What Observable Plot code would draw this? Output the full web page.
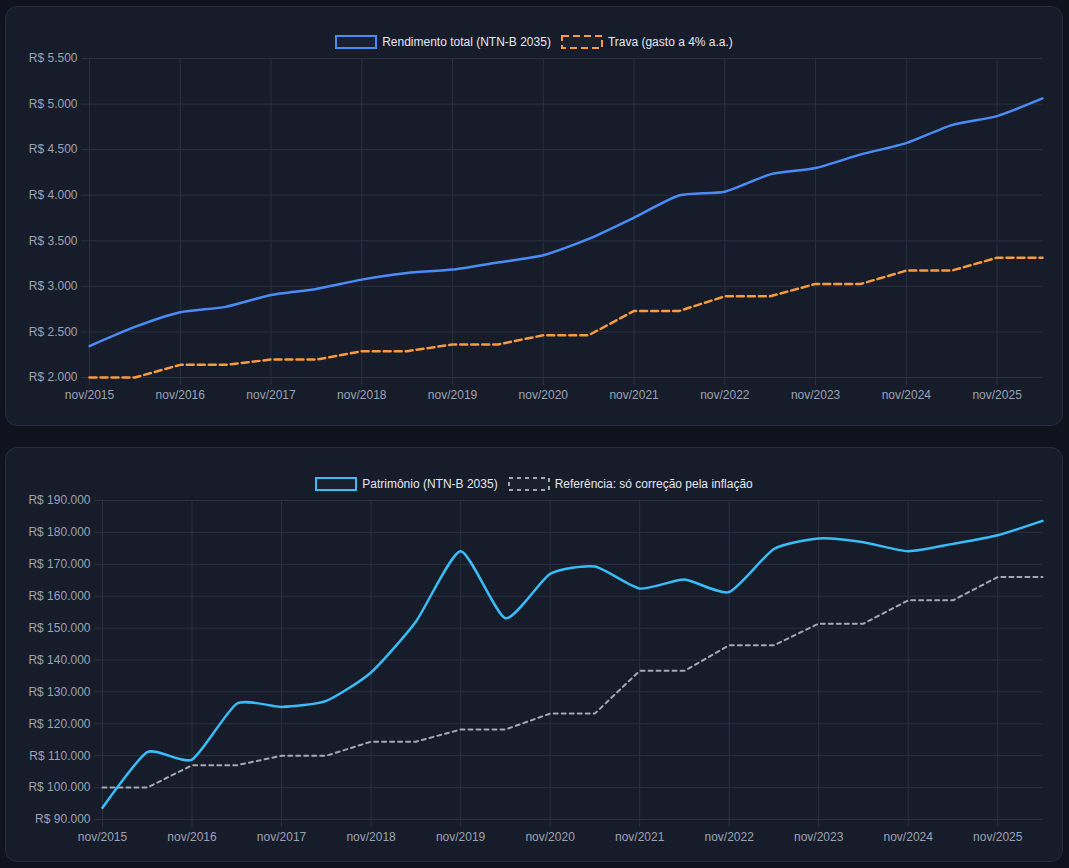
<!DOCTYPE html>
<html><head><meta charset="utf-8">
<script src="https://cdn.jsdelivr.net/npm/d3@7"></script>
<script src="https://cdn.jsdelivr.net/npm/@observablehq/plot@0.6"></script>
<style>
body{margin:0;background:#10131d;width:1069px;height:868px;overflow:hidden;font-family:"Liberation Sans",Arial,sans-serif;}
.card{position:absolute;left:5px;width:1056px;background:#171c2b;border:1px solid #272d3e;border-radius:12px;}
.chart{position:absolute;left:0;}
.leg{position:absolute;left:5px;width:1058px;height:14px;display:flex;justify-content:center;align-items:center;font-size:12px;color:#e3e7ef;white-space:nowrap;}
.leg .it{display:flex;align-items:center;margin:0 5px;}
.leg svg{margin-right:5px;display:block;}
</style></head><body>
<div class="card" style="top:6px;height:418px"></div>
<div class="card" style="top:447px;height:413px"></div>
<div id="c1" class="chart" style="top:0px"></div>
<div id="c2" class="chart" style="top:440px"></div>
<div id="leg1" class="leg" style="top:35px"></div>
<div id="leg2" class="leg" style="top:477px"></div>
<script>
const periods = ["nov/2015","mai/2016","nov/2016","mai/2017","nov/2017","mai/2018","nov/2018","mai/2019","nov/2019","mai/2020","nov/2020","mai/2021","nov/2021","mai/2022","nov/2022","mai/2023","nov/2023","mai/2024","nov/2024","mai/2025","nov/2025","mai/2026"];
const xTickLabels = ["nov/2015","nov/2016","nov/2017","nov/2018","nov/2019","nov/2020","nov/2021","nov/2022","nov/2023","nov/2024","nov/2025"];
const rendimento = [2345,2555,2716,2775,2906,2972,3074,3147,3184,3262,3341,3520,3754,3999,4039,4229,4298,4448,4572,4769,4868,5062];
const trava = [2000,2000,2139,2139,2197,2197,2289,2289,2362,2362,2464,2464,2731,2731,2891,2891,3027,3027,3173,3173,3315,3315];
const patrimonio = [93700,111100,108800,126300,125300,127200,136100,152000,174100,153100,167000,169300,162400,165200,161300,174800,178100,176900,174100,176400,179100,183600];
const referencia = [100000,100000,107000,107000,110000,110000,114400,114400,118200,118200,123200,123200,136600,136600,144600,144600,151400,151400,158700,158700,166000,166000];
const yTicksTop = [2000,2500,3000,3500,4000,4500,5000,5500];
const yTicksBottom = [90000,100000,110000,120000,130000,140000,150000,160000,170000,180000,190000];
const legendTop = [
  {label:"Rendimento total (NTN-B 2035)", color:"#4a8cf7", dash:null},
  {label:"Trava (gasto a 4% a.a.)", color:"#f99a3d", dash:"7,4"}
];
const legendBottom = [
  {label:"Patrimônio (NTN-B 2035)", color:"#38bdf8", dash:null},
  {label:"Referência: só correção pela inflação", color:"#a3a8b4", dash:"4,4"}
];

const loc = d3.formatLocale({decimal:",", thousands:".", grouping:[3], currency:["R$ ",""]});
const f = loc.format(",");
const brl = d => "R$ " + f(d);
const gridC = "#2a3042";
const tickC = "#9ba2b1";

function makeChart(el, cfg) {
  const s1 = periods.map((p,i)=>({p, v: cfg.solid[i]}));
  const s2 = periods.map((p,i)=>({p, v: cfg.dashed[i]}));
  const svg = Plot.plot({
    width:1069, height:420,
    marginTop:cfg.mt, marginBottom:cfg.mb, marginLeft:cfg.ml, marginRight:27,
    style:{background:"transparent", fontFamily:"Liberation Sans, Arial, sans-serif", fontSize:"12px", overflow:"visible"},
    x:{type:"point", domain:periods, padding:0, round:false, axis:null},
    y:{domain:cfg.yDomain, axis:null},
    marks:[
      Plot.gridY(cfg.yTicks, {stroke:gridC, strokeOpacity:1}),
      Plot.gridX(xTickLabels, {stroke:gridC, strokeOpacity:1}),
      Plot.axisY(cfg.yTicks, {tickSize:8, tickPadding:4, tickFormat:brl, stroke:gridC, strokeOpacity:1, fill:tickC, label:null}),
      Plot.axisX(xTickLabels, {tickSize:8, tickPadding:5, stroke:gridC, strokeOpacity:1, fill:tickC, label:null}),
      Plot.line(s2, {x:"p", y:"v", stroke:cfg.dashedColor, strokeWidth:cfg.dashedWidth, strokeDasharray:cfg.dash}),
      Plot.line(s1, {x:"p", y:"v", stroke:cfg.solidColor, strokeWidth:2.5, curve:"cardinal", tension:0.4})
    ]
  });
  document.getElementById(el).appendChild(svg);
}

makeChart("c1", {solid:rendimento, dashed:trava, mt:58, mb:43, ml:89, yDomain:[2000,5500], yTicks:yTicksTop,
  solidColor:legendTop[0].color, dashedColor:legendTop[1].color, dashedWidth:2.5, dash:legendTop[1].dash});
makeChart("c2", {solid:patrimonio, dashed:referencia, mt:60, mb:41, ml:102, yDomain:[90000,190000], yTicks:yTicksBottom,
  solidColor:legendBottom[0].color, dashedColor:legendBottom[1].color, dashedWidth:2, dash:legendBottom[1].dash});

function makeLegend(el, items) {
  const c = document.getElementById(el);
  items.forEach(it => {
    const d = document.createElement("div");
    d.className = "it";
    d.innerHTML = `<svg width="42" height="14"><rect x="1" y="1" width="40" height="12" fill="rgba(255,255,255,0.02)" stroke="${it.color}" stroke-width="2" ${it.dash?`stroke-dasharray="${it.dash}"`:""}/></svg><span>${it.label}</span>`;
    c.appendChild(d);
  });
}
makeLegend("leg1", legendTop);
makeLegend("leg2", legendBottom);
</script>
</body></html>
